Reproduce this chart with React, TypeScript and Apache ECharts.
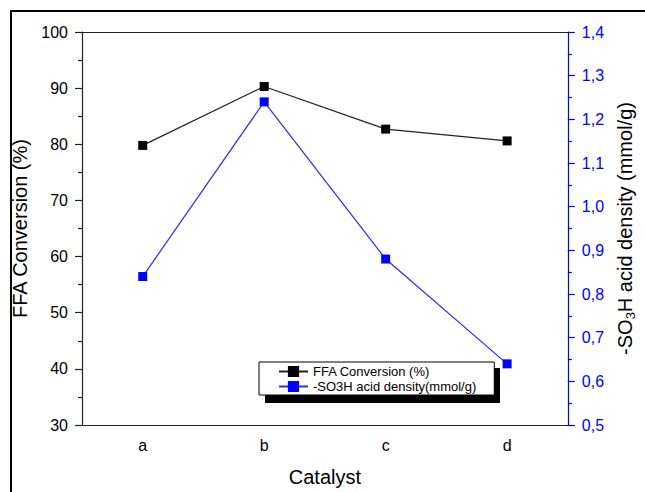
import React, { useEffect, useRef } from "react";
import * as echarts from "echarts";

const categories = ["a", "b", "c", "d"];
const ffaConversion = [79.8, 90.3, 82.7, 80.6];
const acidDensity = [0.84, 1.24, 0.88, 0.64];
const ffaName = "FFA Conversion (%)";
const acidName = "-SO3H acid density(mmol/g)";

const FONT = 'Arial, "Liberation Sans", sans-serif';

export default function App() {
  const ref = useRef<HTMLDivElement>(null);
  useEffect(() => {
    if (!ref.current) return;
    const chart = echarts.init(ref.current, undefined, { renderer: "svg" });
    const option: any = {
      animation: false,
      backgroundColor: "#fff",
      textStyle: { fontFamily: FONT },
      grid: { left: 82, right: 66, top: 32, bottom: 64, containLabel: false },
      graphic: [
        {
          type: "rect",
          z: 0,
          silent: true,
          shape: { x: 11, y: 11, width: 700, height: 600 },
          style: { fill: "none", stroke: "#000", lineWidth: 2 },
        },
        {
          type: "rect",
          z: 3,
          silent: true,
          shape: { x: 265, y: 368, width: 235, height: 35 },
          style: { fill: "#000" },
        },
      ],
      legend: {
        orient: "vertical",
        left: 259,
        top: 362,
        padding: [3, 18, 2, 19],
        itemWidth: 29,
        itemHeight: 14,
        itemGap: 2,
        backgroundColor: "#fff",
        borderColor: "#000",
        borderWidth: 1,
        z: 10,
        textStyle: { fontSize: 13, color: "#000", fontFamily: FONT },
        data: [ffaName, acidName],
      },
      xAxis: [
        {
          type: "category",
          data: categories,
          position: "bottom",
          boundaryGap: true,
          name: "Catalyst",
          nameLocation: "middle",
          nameGap: 42,
          nameTextStyle: { fontSize: 20, color: "#000", fontFamily: FONT },
          axisLine: { lineStyle: { color: "#222", width: 1.2 } },
          axisTick: { alignWithLabel: true, length: 7, lineStyle: { color: "#222", width: 1.2 } },
          axisLabel: { fontSize: 16, color: "#000", margin: 12, fontFamily: FONT },
          splitLine: { show: false },
        },
        {
          type: "category",
          data: categories,
          position: "bottom",
          boundaryGap: true,
          axisLine: { show: false },
          axisTick: { alignWithLabel: false, length: 4, lineStyle: { color: "#222", width: 1.2 } },
          axisLabel: { show: false },
          splitLine: { show: false },
        },
        {
          type: "category",
          data: categories,
          position: "top",
          boundaryGap: true,
          axisLine: { lineStyle: { color: "#222", width: 1.2 } },
          axisTick: { show: false },
          axisLabel: { show: false },
          splitLine: { show: false },
        },
      ],
      yAxis: [
        {
          type: "value",
          position: "left",
          min: 30,
          max: 100,
          interval: 10,
          name: "FFA Conversion (%)",
          nameLocation: "middle",
          nameRotate: 90,
          nameGap: 35,
          nameTextStyle: { fontSize: 20, color: "#000", fontFamily: FONT },
          axisLine: { show: true, lineStyle: { color: "#222", width: 1.2 } },
          axisTick: { show: true, length: 7, lineStyle: { color: "#222", width: 1.2 } },
          minorTick: { show: true, splitNumber: 2, length: 4, lineStyle: { color: "#222", width: 1.2 } },
          axisLabel: { fontSize: 16, color: "#000", margin: 14, fontFamily: FONT },
          splitLine: { show: false },
        },
        {
          type: "value",
          position: "right",
          min: 0.5,
          max: 1.4,
          interval: 0.1,
          name: "{n|-SO}{sub|3}{n|H acid density (mmol/g)}",
          nameLocation: "middle",
          nameRotate: 90,
          nameGap: 42,
          nameTextStyle: {
            fontSize: 20,
            color: "#000",
            fontFamily: FONT,
            rich: {
              n: { fontSize: 20, lineHeight: 20, verticalAlign: "top", color: "#000", fontFamily: FONT },
              sub: { fontSize: 13, lineHeight: 22, verticalAlign: "bottom", color: "#000", fontFamily: FONT },
            },
          },
          axisLine: { show: true, lineStyle: { color: "#0000ff", width: 1.2 } },
          axisTick: { show: true, length: 7, lineStyle: { color: "#0000ff", width: 1.2 } },
          minorTick: { show: true, splitNumber: 2, length: 4, lineStyle: { color: "#0000ff", width: 1.2 } },
          axisLabel: {
            fontSize: 16,
            color: "#0000ff",
            margin: 14,
            fontFamily: FONT,
            formatter: (v: number) => v.toFixed(1).replace(".", ","),
          },
          splitLine: { show: false },
        },
      ],
      series: [
        {
          name: ffaName,
          type: "line",
          xAxisIndex: 0,
          yAxisIndex: 0,
          data: ffaConversion,
          symbol: "rect",
          symbolSize: 9,
          itemStyle: { color: "#000" },
          lineStyle: { color: "#222", width: 1.2 },
          z: 5,
        },
        {
          name: acidName,
          type: "line",
          xAxisIndex: 0,
          yAxisIndex: 1,
          data: acidDensity,
          symbol: "rect",
          symbolSize: 9,
          itemStyle: { color: "#0000ff" },
          lineStyle: { color: "#2a2aff", width: 1.2 },
          z: 5,
        },
      ],
    };
    chart.setOption(option);
    return () => chart.dispose();
  }, []);
  return (
    <div
      ref={ref}
      style={{ position: "absolute", left: 0, top: 0, width: 645, height: 492 }}
    />
  );
}
